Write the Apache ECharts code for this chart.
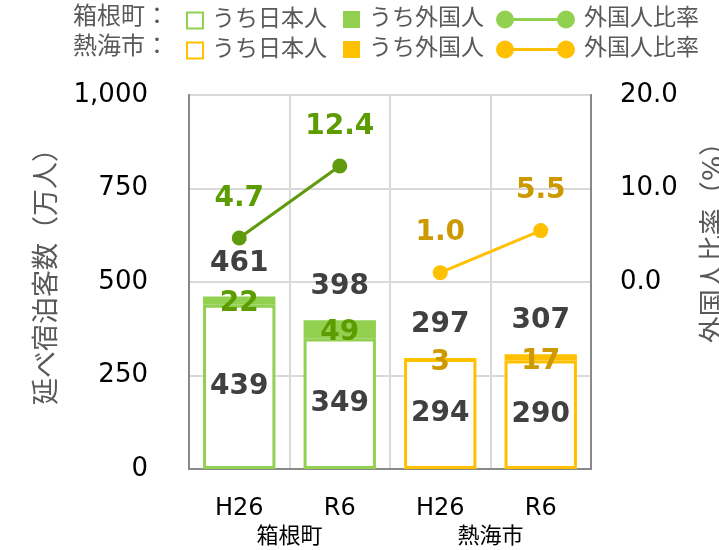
<!DOCTYPE html>
<html>
<head>
<meta charset="utf-8">
<script src="https://cdn.jsdelivr.net/npm/echarts@6/dist/echarts.min.js"></script>
<style>
  html, body { margin: 0; padding: 0; background: #fff; }
  #chart { width: 719px; height: 550px; }
</style>
</head>
<body>
<div id="chart"></div>
<script>
// カテゴリ
const categories = ['H26', 'R6', 'H26', 'R6']
const areas = ['箱根町', '熱海市']

// 延べ宿泊客数（万人）
const hakoneJp = [439, 349, '-', '-']
const hakoneFo = [22, 49, '-', '-']
const atamiJp = ['-', '-', 294, 290]
const atamiFo = ['-', '-', 3, 17]
const totals = [461, 398, 297, 307]

// 外国人比率（%）
const hakoneRate = [4.7, 12.4, '-', '-']
const atamiRate = ['-', '-', 1.0, 5.5]

const leftTicks = { min: 0, max: 1000, interval: 250 }
const rightTicks = { min: -20, max: 20, interval: 10 }

const FONT = "'DejaVu Sans', 'Noto Sans CJK JP', sans-serif"
const GREEN = '#92d050'
const GREEN_DARK = '#5f9a0c'
const GREEN_LABEL = '#5c9c00'
const GOLD = '#ffc000'
const GOLD_LABEL = '#cc9900'
const GRAY_TEXT = '#595959'
const VALUE_TEXT = '#404040'

const lineIcon = 'path://M0,9 A9,9 0 1 1 18,9 A9,9 0 1 1 0,9 Z M61,9 A9,9 0 1 1 79,9 A9,9 0 1 1 61,9 Z M9,7.5 L70,7.5 L70,10.5 L9,10.5 Z'

const legendNames = {
  hakoneJp: 'うち日本人', hakoneFo: 'うち外国人', hakoneRate: '外国人比率',
  atamiJp: 'うち日本人', atamiFo: 'うち外国人', atamiRate: '外国人比率'
}

function legendItem(name, left, top, w, h, icon, extra) {
  return {
    data: [Object.assign({ name: name, icon: icon }, extra || {})],
    left: left,
    top: top,
    padding: 0,
    itemWidth: w,
    itemHeight: h,
    selectedMode: false,
    formatter: function(n) { return legendNames[n] },
    textStyle: { fontFamily: FONT, fontSize: 23, color: GRAY_TEXT, padding: [0, 0, 0, 4] }
  }
}

const boldLabel = function(color) {
  return {
    show: true,
    position: 'inside',
    fontFamily: FONT,
    fontSize: 28,
    fontWeight: 'bold',
    color: color
  }
}

const chart = echarts.init(document.getElementById('chart'))
chart.setOption({
  animation: false,
  textStyle: { fontFamily: FONT },
  title: [
    { text: '箱根町：', left: 73, top: 6, padding: 0, textStyle: { fontFamily: FONT, fontSize: 24, fontWeight: 'normal', color: GRAY_TEXT } },
    { text: '熱海市：', left: 73, top: 36, padding: 0, textStyle: { fontFamily: FONT, fontSize: 24, fontWeight: 'normal', color: GRAY_TEXT } }
  ],
  legend: [
    legendItem('hakoneJp', 186, 9, 16, 16, 'rect'),
    legendItem('hakoneFo', 343, 8, 17, 17, 'rect'),
    legendItem('hakoneRate', 496, 8, 79, 18, lineIcon, { itemStyle: { color: GREEN, borderWidth: 0 } }),
    legendItem('atamiJp', 186, 39, 16, 16, 'rect'),
    legendItem('atamiFo', 343, 38, 17, 17, 'rect'),
    legendItem('atamiRate', 496, 38, 79, 18, lineIcon, { itemStyle: { color: GOLD, borderWidth: 0 } })
  ],
  grid: {
    show: true,
    left: 189,
    right: 128,
    top: 95,
    bottom: 81,
    outerBoundsMode: 'none',
    borderColor: '#898989',
    borderWidth: 2
  },
  xAxis: [
    {
      type: 'category',
      data: categories,
      axisLine: { show: true, lineStyle: { color: '#898989', width: 2 } },
      axisTick: { show: false },
      splitLine: { show: true, lineStyle: { color: '#d9d9d9', width: 2 } },
      axisLabel: { fontFamily: FONT, fontSize: 24, color: '#000', margin: 28 }
    },
    {
      type: 'category',
      data: areas,
      position: 'bottom',
      axisLine: { show: false },
      axisTick: { show: false },
      splitLine: { show: false },
      axisLabel: { fontFamily: FONT, fontSize: 22, color: '#000', margin: 57 }
    }
  ],
  yAxis: [
    {
      type: 'value',
      min: leftTicks.min,
      max: leftTicks.max,
      interval: leftTicks.interval,
      name: '延べ宿泊客数（万人）',
      nameLocation: 'middle',
      nameGap: 128,
      nameTextStyle: { fontFamily: FONT, fontSize: 27, color: GRAY_TEXT, padding: [0, 0, 0, 24] },
      axisLine: { show: true, lineStyle: { color: '#898989', width: 2 } },
      axisTick: { show: false },
      splitLine: { show: true, lineStyle: { color: '#d9d9d9', width: 2 } },
      axisLabel: {
        fontFamily: FONT,
        fontSize: 26,
        color: '#000',
        margin: 41,
        formatter: function(v) { return v.toLocaleString('en-US') }
      }
    },
    {
      type: 'value',
      position: 'right',
      min: rightTicks.min,
      max: rightTicks.max,
      interval: rightTicks.interval,
      name: '外国人比率（%）',
      nameLocation: 'middle',
      nameGap: 110,
      nameRotate: 90,
      nameTextStyle: { fontFamily: FONT, fontSize: 27, color: GRAY_TEXT, padding: [0, 0, 0, 92] },
      axisLine: { show: true, lineStyle: { color: '#898989', width: 2 } },
      axisTick: { show: false },
      splitLine: { show: false },
      axisLabel: {
        fontFamily: FONT,
        fontSize: 26,
        color: '#000',
        margin: 29,
        formatter: function(v) { return v >= 0 ? v.toFixed(1) : '' }
      }
    }
  ],
  series: [
    {
      name: 'hakoneJp',
      type: 'bar',
      stack: 'total',
      barWidth: '72%',
      data: hakoneJp,
      itemStyle: { color: '#fff', borderColor: GREEN, borderWidth: 3 },
      label: boldLabel(VALUE_TEXT)
    },
    {
      name: 'hakoneFo',
      type: 'bar',
      stack: 'total',
      data: hakoneFo,
      itemStyle: { color: GREEN },
      label: Object.assign(boldLabel(GREEN_LABEL), { offset: [0, 3] })
    },
    {
      name: 'atamiJp',
      type: 'bar',
      stack: 'total',
      data: atamiJp,
      itemStyle: { color: '#fff', borderColor: GOLD, borderWidth: 3 },
      label: boldLabel(VALUE_TEXT)
    },
    {
      name: 'atamiFo',
      type: 'bar',
      stack: 'total',
      data: atamiFo,
      itemStyle: { color: GOLD },
      label: Object.assign(boldLabel(GOLD_LABEL), { offset: [0, 4] })
    },
    {
      // 合計ラベル
      name: 'total',
      type: 'scatter',
      data: totals,
      symbolSize: 0,
      itemStyle: { color: 'rgba(0,0,0,0)', opacity: 1 },
      label: Object.assign(boldLabel(VALUE_TEXT), { position: 'top', distance: 19 }),
      z: 5
    },
    {
      name: 'hakoneRate',
      type: 'line',
      yAxisIndex: 1,
      data: hakoneRate,
      symbol: 'circle',
      symbolSize: 15,
      lineStyle: { color: GREEN_DARK, width: 3 },
      itemStyle: { color: GREEN_DARK },
      label: Object.assign(boldLabel(GREEN_LABEL), {
        position: 'top',
        distance: 18,
        formatter: function(p) { return p.value.toFixed(1) }
      }),
      z: 6
    },
    {
      name: 'atamiRate',
      type: 'line',
      yAxisIndex: 1,
      data: atamiRate,
      symbol: 'circle',
      symbolSize: 15,
      lineStyle: { color: GOLD, width: 3 },
      itemStyle: { color: GOLD },
      label: Object.assign(boldLabel(GOLD_LABEL), {
        position: 'top',
        distance: 18,
        formatter: function(p) { return p.value.toFixed(1) }
      }),
      z: 6
    }
  ]
})
</script>
</body>
</html>
